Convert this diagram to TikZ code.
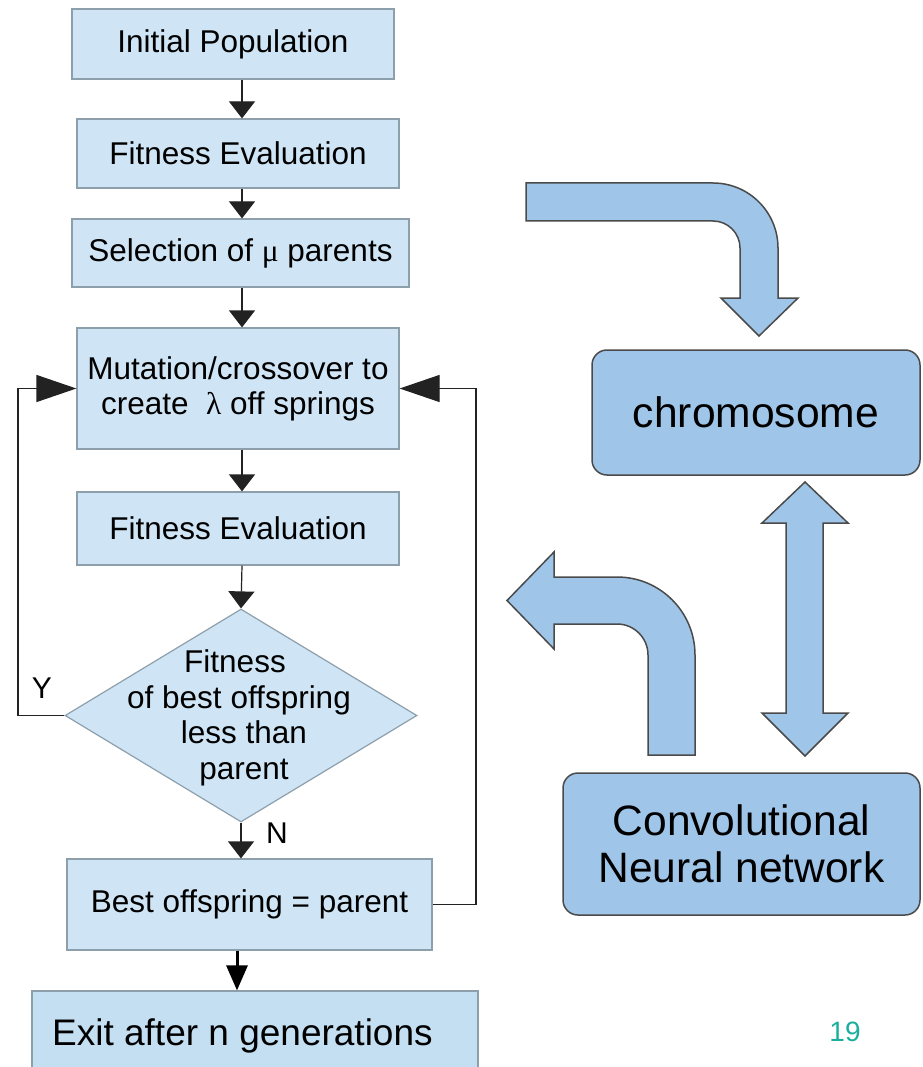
\documentclass[tikz,border=0pt]{standalone}
\usepackage{fontspec}
\setmainfont{Liberation Sans}
\newfontfamily\grkfont{Liberation Serif}
\usetikzlibrary{arrows.meta,shapes.geometric}
\definecolor{boxfill}{HTML}{CFE5F5}
\definecolor{boxline}{HTML}{8E9FAC}
\definecolor{exitfill}{HTML}{C4DFF2}
\definecolor{bigfill}{HTML}{9FC5E8}
\definecolor{bigline}{HTML}{4A4A4A}
\definecolor{pagenum}{HTML}{1AAF9C}
\definecolor{conn}{HTML}{222222}
\begin{document}
\begin{tikzpicture}[x=1pt,y=-1pt,
  flowbox/.style={draw=boxline, fill=boxfill, line width=1.2pt, rectangle, inner sep=0pt, align=center, font=\fontsize{31.5}{35}\selectfont},
  flow/.style={draw=conn, line width=1.2pt, -{Triangle[length=17pt,width=26pt]}},
  sideflow/.style={draw=conn, line width=1.2pt, -{Triangle[length=40pt,width=27pt]}},
  exitflow/.style={draw=black, line width=3pt, -{Triangle[length=25pt,width=21pt]}},
  bigbox/.style={draw=bigline, fill=bigfill, line width=1.5pt, rounded corners=15pt, align=center, inner sep=0pt},
  bigarrow/.style={draw=bigline, fill=bigfill, line width=1.5pt, line join=miter},
  lbl/.style={font=\fontsize{30}{32}\selectfont, inner sep=0pt}
]
\path[use as bounding box] (0,0) rectangle (922,1067);
\clip (0,0) rectangle (922,1067);

% spine coordinates
\coordinate (spine) at (242,0);
\coordinate (spinex) at (237,0);
\coordinate (lx) at (18,0);
\coordinate (rx) at (476,0);

% flowchart boxes
\node[flowbox, minimum width=322pt, minimum height=70pt] (b1) at (233,44) {Initial Population};
\node[flowbox, minimum width=322pt, minimum height=69pt] (b2) at (238,153.5) {Fitness Evaluation};
\node[flowbox, minimum width=337pt, minimum height=68pt] (b3) at (240.5,253) {Selection of {\grkfont μ} parents};
\node[flowbox, minimum width=322pt, minimum height=121pt] (b4) at (238,388.5) {Mutation/crossover to\\ create\ \ {\grkfont λ} off springs};
\node[flowbox, minimum width=322pt, minimum height=73pt] (b5) at (238,528.5) {Fitness Evaluation};
\node[draw=boxline, fill=boxfill, line width=1.2pt, diamond, minimum width=352pt, minimum height=213pt, inner sep=0pt] (dec) at (241,715.5) {};
\node[align=center, inner sep=0pt, font=\fontsize{31.5}{35.5}\selectfont] (dectext) at (239,718) {Fitness\hspace*{8pt}\\ of best offspring\\ \hspace*{10pt}less than\\ \hspace*{10pt}parent};
\node[flowbox, minimum width=365pt, minimum height=91pt] (b6) at (249.5,904.5) {Best offspring = parent};
\node[draw=boxline, fill=exitfill, line width=1.2pt, rectangle, minimum width=446pt, minimum height=84pt, inner sep=0pt] (b7) at (255,1033) {};
\node[anchor=base west, inner sep=0pt, font=\fontsize{37}{40}\selectfont] (b7text) at (52,1045) {Exit after n generations};

% connectors
\draw[flow] (b1.south -| spine) -- (b2.north -| spine);
\draw[flow] (b2.south -| spine) -- (b3.north -| spine);
\draw[flow] (b3.south -| spine) -- (b4.north -| spine);
\draw[flow] (b4.south -| spine) -- (b5.north -| spine);
\draw[flow] (b5.south -| spine) -- (dec.north);
\draw[flow] (dec.south) -- (b6.north -| dec.south);
\draw[exitflow] (b6.south -| spinex) -- (b7.north -| spinex);
\draw[sideflow] (dec.west) -- (dec.west -| lx) |- (b4.west);
\draw[sideflow] (b6.east) -- (b6.east -| rx) |- (b4.east);

\node[lbl] (ylbl) at (42,688) {Y};
\node[lbl] (nlbl) at (277,833) {N};

% right side
\node[bigbox, minimum width=328pt, minimum height=125pt, font=\fontsize{42.6}{47}\selectfont] (chrom) at (756,412.5) {chromosome};
\node[bigbox, minimum width=357pt, minimum height=142pt, font=\fontsize{42.5}{47}\selectfont] (cnn) at (741.5,844) {Convolutional\\Neural network};

% top bent arrow
\path[bigarrow] (526,183) -- (713,183)
  .. controls (748.9,183) and (778,212.1) .. (778,248)
  -- (778,298) -- (798,298) -- (759,336) -- (721,298) -- (740,298) -- (740,248)
  .. controls (740,233.1) and (727.9,221) .. (713,221)
  -- (526,221) -- cycle;

% left bent arrow
\path[bigarrow] (648,755) -- (695,755) -- (695,655)
  .. controls (695,611.9) and (660.1,577) .. (617,577)
  -- (554,577) -- (554,552) -- (507,600.5) -- (554,649) -- (554,624) -- (617,624)
  .. controls (634.1,624) and (648,637.9) .. (648,655)
  -- cycle;

% double arrow
\path[bigarrow] (805,482) -- (848,523) -- (823,523) -- (823,713) -- (848,713) -- (805,756)
  -- (762,713) -- (786,713) -- (786,523) -- (762,523) -- cycle;

\node[text=pagenum, font=\fontsize{28}{30}\selectfont, inner sep=0pt] (pnum) at (845,1032) {19};
\end{tikzpicture}
\end{document}
